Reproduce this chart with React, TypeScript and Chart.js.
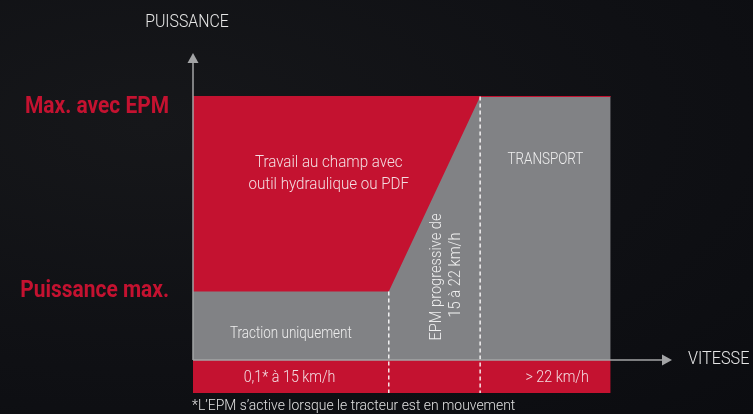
import React, { useEffect, useRef } from "react";
import { Chart, registerables } from "chart.js";

Chart.register(...registerables);

// Speed breakpoints (km/h) and power levels (relative units)
const speedBreaks = [0, 15, 22, 32];
const axisSpeedMax = 36.7;
const powerLevels = { base: 26, epm: 100 };
const powerRange = { min: -12.5, max: 116.5 };
const bandBottom = -12.5;

const yTickValues = [26, 96];
const yTickLabels = ["Puissance max.", "Max. avec EPM"];
const bandLabels = ["0,1* à 15 km/h", "> 22 km/h"];
const bandLabelSpeeds = [7.4, 27.9];
const regionLabels = {
  field: ["Travail au champ avec", "outil hydraulique ou PDF"],
  traction: "Traction uniquement",
  transport: "TRANSPORT",
  epm: ["EPM progressive de", "15 à 22 km/h"],
};
const axisTitles = { y: "PUISSANCE", x: "VITESSE" };
const footnote = "*L’EPM s’active lorsque le tracteur est en mouvement";

const RED = "#c41230";
const GRAY = "#818285";
const BG = "#0f1014";
const AXIS = "#a3a4a6";
const FONT = "Roboto, 'Liberation Sans', sans-serif";

function txt(
  ctx: CanvasRenderingContext2D,
  s: string,
  x: number,
  y: number,
  size: number,
  color: string,
  align: CanvasTextAlign,
  weight = "300",
  sx = 0.84
) {
  ctx.save();
  ctx.translate(x, y);
  ctx.scale(sx, 1);
  ctx.font = `${weight} ${size}px ${FONT}`;
  ctx.fillStyle = color;
  ctx.textAlign = align;
  ctx.textBaseline = "middle";
  ctx.fillText(s, 0, 0);
  ctx.restore();
}

const overlayPlugin = {
  id: "overlay",
  afterDatasetsDraw(chart: any) {
    const { ctx, scales } = chart;
    const x = scales.x;
    const y = scales.y;
    const px = (v: number) => x.getPixelForValue(v);
    const py = (v: number) => y.getPixelForValue(v);
    ctx.save();

    // axes
    ctx.strokeStyle = AXIS;
    ctx.fillStyle = AXIS;
    ctx.lineWidth = 1.5;
    const x0 = px(0);
    const y0 = py(0);
    const yTop = chart.chartArea.top;
    const xEnd = chart.chartArea.right;
    ctx.beginPath();
    ctx.moveTo(x0, y0);
    ctx.lineTo(x0, yTop + 8);
    ctx.stroke();
    ctx.beginPath();
    ctx.moveTo(x0, y0);
    ctx.lineTo(xEnd - 8, y0);
    ctx.stroke();
    ctx.beginPath();
    ctx.moveTo(x0, yTop);
    ctx.lineTo(x0 - 5.5, yTop + 10);
    ctx.lineTo(x0 + 5.5, yTop + 10);
    ctx.closePath();
    ctx.fill();
    ctx.beginPath();
    ctx.moveTo(xEnd, y0);
    ctx.lineTo(xEnd - 10, y0 - 5.5);
    ctx.lineTo(xEnd - 10, y0 + 5.5);
    ctx.closePath();
    ctx.fill();

    // y level labels
    yTickValues.forEach((v, i) => {
      txt(ctx, yTickLabels[i], x0 - 24, py(v), 23, RED, "right", "bold", 0.91);
    });

    // axis titles
    txt(ctx, axisTitles.y, x0 - 6, 22, 18, "#e6e6e6", "center", "300", 0.88);
    txt(ctx, axisTitles.x, xEnd + 16, y0 - 1, 18, "#e6e6e6", "left", "300", 0.9);

    // region labels
    const fx = px(10.4);
    txt(ctx, regionLabels.field[0], fx, 163, 17, "#f3dde1", "center", "300", 0.89);
    txt(ctx, regionLabels.field[1], fx, 185, 17, "#f3dde1", "center", "300", 0.89);
    txt(ctx, regionLabels.traction, px(7.5), py(10), 16, "#eeeeee", "center");
    txt(ctx, regionLabels.transport, px(27), py(76), 16, "#eeeeee", "center");

    // rotated EPM label
    ctx.save();
    ctx.translate(px(18.7), py(31.5));
    ctx.rotate(-Math.PI / 2);
    txt(ctx, regionLabels.epm[0], 0, 0, 17, "#eeeeee", "center", "300", 0.86);
    txt(ctx, regionLabels.epm[1], 2, 19, 17, "#eeeeee", "center", "300", 0.86);
    ctx.restore();

    // band labels
    bandLabels.forEach((t, i) => {
      txt(ctx, t, px(bandLabelSpeeds[i]), py(bandBottom / 2 - 0.3), 17, "#f3dde1", "center");
    });

    // footnote
    txt(ctx, footnote, x0 - 1, 406, 14.5, "#e0e0e0", "left", "300", 0.96);

    ctx.restore();
  },
};

export default function App() {
  const ref = useRef<HTMLCanvasElement | null>(null);

  useEffect(() => {
    if (!ref.current) return;
    const [s0, s15, s22, s32] = speedBreaks;
    const dash = {
      type: "line" as const,
      borderColor: "rgba(255,255,255,0.9)",
      borderWidth: 1.5,
      borderDash: [4, 3],
      pointRadius: 0,
      fill: false,
      order: 0,
    };
    const chart = new Chart(ref.current, {
      type: "line",
      data: {
        datasets: [
          {
            label: "dash15",
            data: [
              { x: s15, y: powerLevels.base },
              { x: s15, y: bandBottom },
            ],
            ...dash,
          },
          {
            label: "dash22",
            data: [
              { x: s22, y: powerLevels.epm },
              { x: s22, y: bandBottom },
            ],
            ...dash,
          },
          {
            label: "band",
            data: [
              { x: s0, y: bandBottom },
              { x: s32, y: bandBottom },
            ],
            backgroundColor: RED,
            borderWidth: 0,
            pointRadius: 0,
            fill: "origin",
            order: 1,
          },
          {
            label: "traction",
            data: [
              { x: s0, y: powerLevels.base },
              { x: s15, y: powerLevels.base },
              { x: s22, y: powerLevels.epm },
            ],
            backgroundColor: GRAY,
            borderWidth: 0,
            pointRadius: 0,
            fill: "origin",
            order: 2,
          },
          {
            label: "field",
            data: [
              { x: s0, y: powerLevels.epm },
              { x: s22, y: powerLevels.epm },
            ],
            backgroundColor: RED,
            borderWidth: 0,
            pointRadius: 0,
            fill: "origin",
            order: 3,
          },
          {
            label: "total",
            data: [
              { x: s0, y: powerLevels.epm },
              { x: s32, y: powerLevels.epm },
            ],
            backgroundColor: GRAY,
            borderColor: RED,
            borderWidth: 1,
            pointRadius: 0,
            fill: "origin",
            order: 4,
          },
        ],
      },
      options: {
        animation: false,
        responsive: false,
        maintainAspectRatio: false,
        layout: { padding: { left: 193, right: 81, top: 53, bottom: 21 } },
        plugins: { legend: { display: false }, tooltip: { enabled: false } },
        scales: {
          x: { type: "linear", min: 0, max: axisSpeedMax, display: false },
          y: { type: "linear", min: powerRange.min, max: powerRange.max, display: false },
        },
      },
      plugins: [overlayPlugin],
    });
    return () => chart.destroy();
  }, []);

  return (
    <div
      style={{
        position: "fixed",
        left: 0,
        top: 0,
        width: 753,
        height: 414,
        background: `radial-gradient(ellipse at 20% 30%, #16171a 0%, ${BG} 60%, #0b0c10 100%)`,
      }}
    >
      <canvas ref={ref} width={753} height={414} style={{ display: "block" }} />
    </div>
  );
}
